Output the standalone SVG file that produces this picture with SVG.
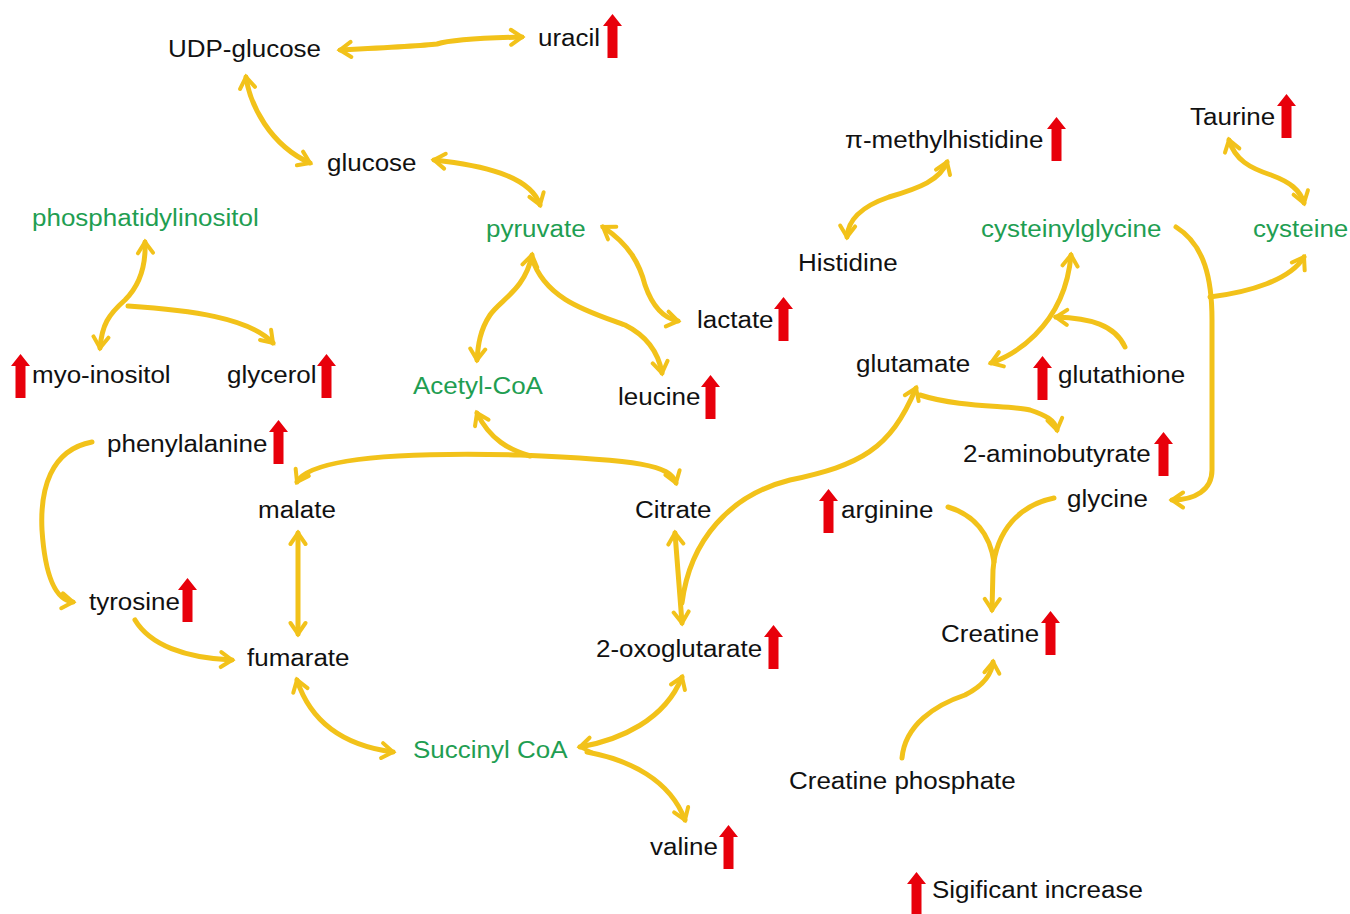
<svg xmlns="http://www.w3.org/2000/svg" xmlns:xlink="http://www.w3.org/1999/xlink" width="1350" height="914" viewBox="0 0 1350 914">
<style>
.t{font-family:"Liberation Sans",Arial,sans-serif;font-size:23px;fill:#111}
.g{fill:#1f9e52}
.c{fill:none;stroke:#f2c21a;stroke-width:5;stroke-linecap:round;stroke-linejoin:round}
.up{fill:#e8000b}
</style>
<defs>
<marker id="h" viewBox="0 0 20 20" refX="16" refY="10" markerWidth="20" markerHeight="20" markerUnits="userSpaceOnUse" orient="auto-start-reverse">
<path d="M5,2.5 L16,10 L5,17.5" fill="none" stroke="#f2c21a" stroke-width="4" stroke-linecap="round" stroke-linejoin="miter"/>
</marker>
<path id="up" d="M9.5,0 L19,12 L14.5,12 L14.5,44 L4.5,44 L4.5,12 L0,12 Z"/>
</defs>
<rect width="1350" height="914" fill="#fff"/>
<g id="connectors">
<path class="c" d="M340,50 C380,48 420,46 437,44 C450,40 480,38 522,37" marker-start="url(#h)" marker-end="url(#h)"/>
<path class="c" d="M246,77 C250,105 270,145 310,163" marker-start="url(#h)" marker-end="url(#h)"/>
<path class="c" d="M434,160 C480,165 530,175 540,205" marker-start="url(#h)" marker-end="url(#h)"/>
<path class="c" d="M145,242 C146,265 140,285 125,300 C108,315 102,325 100,348" marker-start="url(#h)" marker-end="url(#h)"/>
<path class="c" d="M128,306 C190,310 250,318 273,343" marker-end="url(#h)"/>
<path class="c" d="M603,227 C630,245 640,265 645,285 C652,305 662,318 678,321" marker-start="url(#h)" marker-end="url(#h)"/>
<path class="c" d="M532,255 C525,290 500,300 490,315 C480,330 478,345 477,360" marker-start="url(#h)" marker-end="url(#h)"/>
<path class="c" d="M532,258 C545,300 590,312 625,325 C645,335 658,350 662,373" marker-end="url(#h)"/>
<path class="c" d="M676,483 C670,465 640,460 520,455 C400,452 310,458 297,482" marker-start="url(#h)" marker-end="url(#h)"/>
<path class="c" d="M530,456 C510,450 490,440 477,413" marker-end="url(#h)"/>
<path class="c" d="M298,533 L298,634" marker-start="url(#h)" marker-end="url(#h)"/>
<path class="c" d="M92,442 C50,450 40,490 42,530 C45,575 55,600 73,602" marker-end="url(#h)"/>
<path class="c" d="M135,620 C150,645 185,658 232,660" marker-end="url(#h)"/>
<path class="c" d="M297,680 C310,720 340,745 393,752" marker-start="url(#h)" marker-end="url(#h)"/>
<path class="c" d="M580,747 C620,740 665,720 682,677" marker-start="url(#h)" marker-end="url(#h)"/>
<path class="c" d="M587,752 C630,760 670,780 685,820" marker-end="url(#h)"/>
<path class="c" d="M675,533 L682,623" marker-start="url(#h)" marker-end="url(#h)"/>
<path class="c" d="M682,603 C690,540 730,495 790,480 C860,465 890,450 916,388" marker-end="url(#h)"/>
<path class="c" d="M920,395 C960,408 1010,405 1030,410 C1045,415 1055,420 1057,430" marker-end="url(#h)"/>
<path class="c" d="M1071,255 C1068,290 1055,315 1035,335 C1020,350 1005,358 991,363" marker-start="url(#h)" marker-end="url(#h)"/>
<path class="c" d="M1125,347 C1115,325 1090,318 1056,317" marker-end="url(#h)"/>
<path class="c" d="M1176,227 C1205,245 1212,280 1212,320 L1212,470 C1212,490 1195,500 1172,500" marker-end="url(#h)"/>
<path class="c" d="M1210,297 C1250,292 1290,280 1304,257" marker-end="url(#h)"/>
<path class="c" d="M1229,140 C1235,160 1250,168 1271,175 C1290,182 1300,190 1304,203" marker-start="url(#h)" marker-end="url(#h)"/>
<path class="c" d="M947,162 C940,180 920,188 889,197 C860,207 848,220 847,237" marker-start="url(#h)" marker-end="url(#h)"/>
<path class="c" d="M948,507 C975,515 990,535 994,562"/>
<path class="c" d="M1054,498 C1020,505 996,530 993,570 L992,610" marker-end="url(#h)"/>
<path class="c" d="M902,758 C905,725 935,705 965,695 C985,685 992,672 993,662" marker-end="url(#h)"/>
</g>
<g id="n-udpglucose"><text class="t" transform="translate(168,57) scale(1.13,1)">UDP-glucose</text></g>
<g id="n-uracil"><text class="t" transform="translate(538,46) scale(1.13,1)">uracil</text><use href="#up" class="up" x="603" y="14"/></g>
<g id="n-glucose"><text class="t" transform="translate(327,171) scale(1.13,1)">glucose</text></g>
<g id="n-pi"><text class="t g" transform="translate(32,226) scale(1.13,1)">phosphatidylinositol</text></g>
<g id="n-pyruvate"><text class="t g" transform="translate(486,237) scale(1.13,1)">pyruvate</text></g>
<g id="n-methylhistidine"><text class="t" transform="translate(845,148) scale(1.13,1)">π-methylhistidine</text><use href="#up" class="up" x="1047" y="117"/></g>
<g id="n-taurine"><text class="t" transform="translate(1190,125) scale(1.13,1)">Taurine</text><use href="#up" class="up" x="1277" y="94"/></g>
<g id="n-cysteinylglycine"><text class="t g" transform="translate(981,237) scale(1.13,1)">cysteinylglycine</text></g>
<g id="n-cysteine"><text class="t g" transform="translate(1253,237) scale(1.13,1)">cysteine</text></g>
<g id="n-histidine"><text class="t" transform="translate(798,271) scale(1.13,1)">Histidine</text></g>
<g id="n-lactate"><text class="t" transform="translate(697,328) scale(1.13,1)">lactate</text><use href="#up" class="up" x="774" y="297"/></g>
<g id="n-myoinositol"><text class="t" transform="translate(32,383) scale(1.13,1)">myo-inositol</text><use href="#up" class="up" x="11" y="354"/></g>
<g id="n-glycerol"><text class="t" transform="translate(227,383) scale(1.13,1)">glycerol</text><use href="#up" class="up" x="317" y="354"/></g>
<g id="n-acetylcoa"><text class="t g" transform="translate(413,394) scale(1.13,1)">Acetyl-CoA</text></g>
<g id="n-leucine"><text class="t" transform="translate(618,405) scale(1.13,1)">leucine</text><use href="#up" class="up" x="701" y="375"/></g>
<g id="n-glutamate"><text class="t" transform="translate(856,372) scale(1.13,1)">glutamate</text></g>
<g id="n-glutathione"><text class="t" transform="translate(1058,383) scale(1.13,1)">glutathione</text><use href="#up" class="up" x="1033" y="356"/></g>
<g id="n-phenylalanine"><text class="t" transform="translate(107,452) scale(1.13,1)">phenylalanine</text><use href="#up" class="up" x="269" y="420"/></g>
<g id="n-aminobutyrate"><text class="t" transform="translate(963,462) scale(1.13,1)">2-aminobutyrate</text><use href="#up" class="up" x="1154" y="432"/></g>
<g id="n-malate"><text class="t" transform="translate(258,518) scale(1.13,1)">malate</text></g>
<g id="n-citrate"><text class="t" transform="translate(635,518) scale(1.13,1)">Citrate</text></g>
<g id="n-arginine"><text class="t" transform="translate(841,518) scale(1.13,1)">arginine</text><use href="#up" class="up" x="819" y="489"/></g>
<g id="n-glycine"><text class="t" transform="translate(1067,507) scale(1.13,1)">glycine</text></g>
<g id="n-tyrosine"><text class="t" transform="translate(89,610) scale(1.13,1)">tyrosine</text><use href="#up" class="up" x="178" y="578"/></g>
<g id="n-fumarate"><text class="t" transform="translate(247,666) scale(1.13,1)">fumarate</text></g>
<g id="n-oxoglutarate"><text class="t" transform="translate(596,657) scale(1.13,1)">2-oxoglutarate</text><use href="#up" class="up" x="764" y="625"/></g>
<g id="n-creatine"><text class="t" transform="translate(941,642) scale(1.13,1)">Creatine</text><use href="#up" class="up" x="1041" y="611"/></g>
<g id="n-succinylcoa"><text class="t g" transform="translate(413,758) scale(1.13,1)">Succinyl CoA</text></g>
<g id="n-creatinephosphate"><text class="t" transform="translate(789,789) scale(1.13,1)">Creatine phosphate</text></g>
<g id="n-valine"><text class="t" transform="translate(650,855) scale(1.13,1)">valine</text><use href="#up" class="up" x="719" y="825"/></g>
<g id="legend"><use href="#up" class="up" x="907" y="872"/><text class="t" transform="translate(932,898) scale(1.13,1)">Sigificant increase</text></g>
</svg>
